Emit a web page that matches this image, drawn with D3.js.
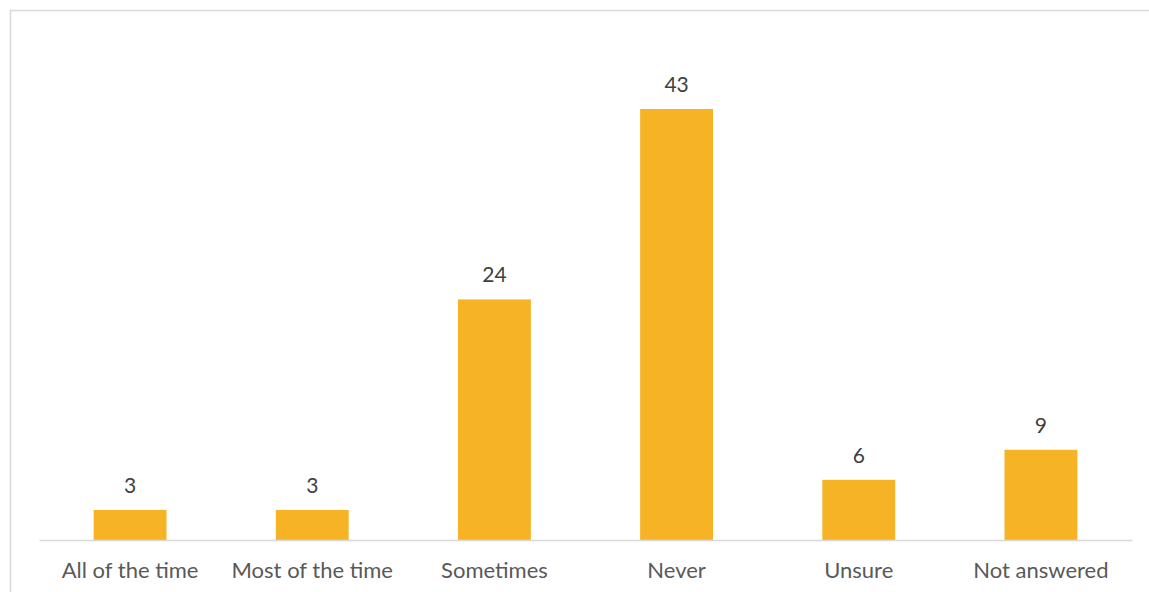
<!DOCTYPE html>
<html><head><meta charset="utf-8">
<script src="https://cdn.jsdelivr.net/npm/d3@7"></script>
<style>
html,body{margin:0;padding:0;background:#fff;}
svg{display:block;}
</style></head>
<body>
<svg id="chart" width="1149" height="592"></svg>
<script>
const categories = ["All of the time","Most of the time","Sometimes","Never","Unsure","Not answered"];
const values = [3,3,24,43,6,9];

const svg = d3.select("#chart");
const W = 1149, H = 592;
const plotBottom = 540;

// outer chart border
svg.append("rect")
  .attr("x", 10.5).attr("y", 10.5)
  .attr("width", W + 20).attr("height", H + 20)
  .attr("fill", "none").attr("stroke", "#d9d9d9").attr("stroke-width", 1.5);

const x = d3.scaleBand().domain(categories).range([39, 1132]).paddingInner(0.6).paddingOuter(0.3);
const y = d3.scaleLinear().domain([0, 43]).range([plotBottom, 109]);

const color = "#F6B325";
const textColor = "#595959";
const font = "Lato, 'Open Sans', sans-serif";

svg.append("g").selectAll("rect").data(values).join("rect")
  .attr("x", (d,i) => x(categories[i]))
  .attr("y", d => y(d))
  .attr("width", x.bandwidth())
  .attr("height", d => y(0) - y(d))
  .attr("fill", color);

// axis
const axis = d3.axisBottom(x).tickSize(0).tickPadding(0);
const gx = svg.append("g").attr("transform", `translate(0,${plotBottom})`).call(axis);
gx.select(".domain").attr("stroke", "#d9d9d9").attr("stroke-width", 1.5);
gx.selectAll(".tick text")
  .attr("dy", null).attr("y", 38)
  .attr("fill", textColor)
  .style("font-family", font).style("font-size", "22px");

// value labels
svg.append("g").selectAll("text").data(values).join("text")
  .attr("x", (d,i) => x(categories[i]) + x.bandwidth()/2)
  .attr("y", d => y(d) - 17)
  .attr("text-anchor", "middle")
  .attr("fill", "#404040")
  .style("font-family", font).style("font-size", "21px")
  .text(d => d);
</script>
</body></html>
